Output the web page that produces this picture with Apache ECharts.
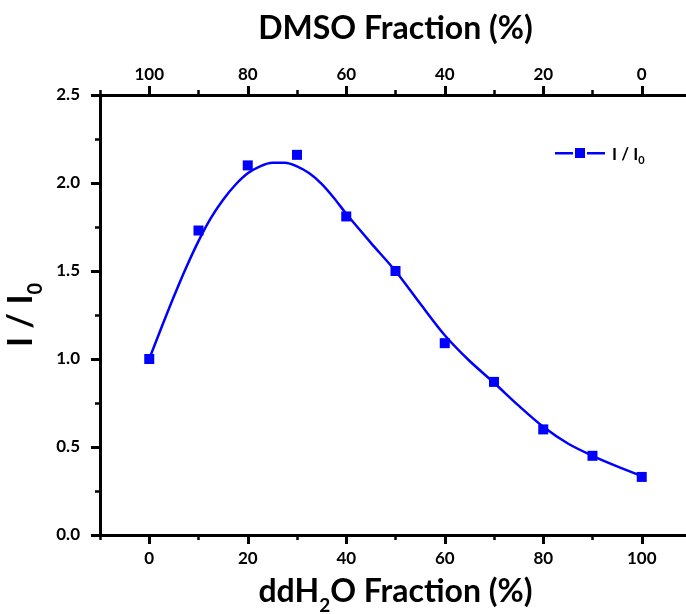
<!DOCTYPE html>
<html>
<head>
<meta charset="utf-8">
<script src="https://cdn.jsdelivr.net/npm/echarts@6/dist/echarts.min.js"></script>
<style>html,body{margin:0;padding:0;background:#fff}#c{width:686px;height:614px}</style>
</head>
<body>
<div id="c"></div>
<script>
// Measured points
const waterFraction = [0, 10, 20, 30, 40, 50, 60, 70, 80, 90, 100];
const intensityRatio = [1.00, 1.73, 2.10, 2.16, 1.81, 1.50, 1.09, 0.87, 0.60, 0.45, 0.33];
// Fitted curve
const fitX = [0, 2.5, 5, 7.5, 10, 12.5, 15, 17.5, 20, 22.5, 25, 27.5, 30, 32.5, 35, 37.5, 40, 45, 50, 55, 60, 65, 70, 75, 80, 85, 90, 95, 100];
const fitY = [1.00, 1.18, 1.355, 1.52, 1.67, 1.80, 1.905, 1.99, 2.055, 2.095, 2.115, 2.115, 2.095, 2.055, 1.995, 1.915, 1.825, 1.66, 1.50, 1.315, 1.135, 0.99, 0.865, 0.735, 0.615, 0.52, 0.45, 0.39, 0.335];
const yTicks = [0, 0.5, 1.0, 1.5, 2.0, 2.5];

const FONT = 'Lato';
const chart = echarts.init(document.getElementById('c'), null, {renderer: 'canvas'});
const black = '#000';
const tickLbl = {fontFamily: FONT, fontWeight: 'bold', fontSize: 17, color: black};

const option = {
  animation: false,
  backgroundColor: '#fff',
  grid: [
    {left: 100, top: 95, width: 591, height: 440, containLabel: false, outerBoundsMode: 'none'},
    {left: 149.25, top: 95, width: 492.5, height: 440, containLabel: false, outerBoundsMode: 'none'}
  ],
  xAxis: [
    { // frame bottom, minor ticks
      gridIndex: 0, type: 'value', min: -10, max: 110, interval: 10, position: 'bottom',
      axisLine: {show: true, onZero: false, lineStyle: {color: black, width: 3}},
      axisTick: {show: true, length: 5, lineStyle: {color: black, width: 2.5}},
      axisLabel: {show: false}, splitLine: {show: false},
      name: '{m|ddH}{s|2}{m|O Fraction (%)}', nameLocation: 'middle', nameGap: 37,
      nameTextStyle: {rich: {
        m: {fontFamily: FONT, fontWeight: 'bold', fontSize: 32, color: black, lineHeight: 36, verticalAlign: 'bottom'},
        s: {fontFamily: FONT, fontWeight: 'bold', fontSize: 19, color: black, lineHeight: 19, verticalAlign: 'bottom', padding: [0, 0, -7, 0]}
      }}
    },
    { // frame top, minor ticks
      gridIndex: 0, type: 'value', min: -10, max: 110, interval: 10, position: 'top',
      axisLine: {show: true, onZero: false, lineStyle: {color: black, width: 3}},
      axisTick: {show: true, length: 5, lineStyle: {color: black, width: 2.5}},
      axisLabel: {show: false}, splitLine: {show: false},
      name: 'DMSO Fraction (%)', nameLocation: 'middle', nameGap: 50,
      nameTextStyle: {fontFamily: FONT, fontWeight: 'bold', fontSize: 32, color: black}
    },
    { // bottom major ticks + labels
      gridIndex: 1, type: 'value', min: 0, max: 100, interval: 20, position: 'bottom',
      axisLine: {show: false, onZero: false},
      axisTick: {show: true, length: 9, lineStyle: {color: black, width: 3}},
      axisLabel: Object.assign({margin: 15}, tickLbl), splitLine: {show: false}
    },
    { // top major ticks + labels (DMSO)
      gridIndex: 1, type: 'value', min: 0, max: 100, interval: 20, position: 'top', inverse: true,
      axisLine: {show: false, onZero: false},
      axisTick: {show: true, length: 9, lineStyle: {color: black, width: 3}},
      axisLabel: Object.assign({margin: 12}, tickLbl), splitLine: {show: false}
    }
  ],
  yAxis: [
    {
      gridIndex: 0, type: 'value', min: yTicks[0], max: yTicks[yTicks.length - 1], interval: 0.5,
      axisLine: {show: true, onZero: false, lineStyle: {color: black, width: 3}},
      axisTick: {show: true, length: 9, lineStyle: {color: black, width: 3}},
      minorTick: {show: true, splitNumber: 2, length: 5, lineStyle: {color: black, width: 2.5}},
      axisLabel: Object.assign({margin: 20, formatter: v => v.toFixed(1)}, tickLbl),
      splitLine: {show: false}, minorSplitLine: {show: false},
      name: '{m|I / I}{s|0}', nameLocation: 'middle', nameGap: 58, nameRotate: 90,
      nameTextStyle: {rich: {
        m: {fontFamily: FONT, fontWeight: 'bold', fontSize: 34, color: black, lineHeight: 40, verticalAlign: 'bottom'},
        s: {fontFamily: FONT, fontWeight: 'bold', fontSize: 20, color: black, lineHeight: 20, verticalAlign: 'bottom', padding: [0, 0, -7, 0]}
      }}
    },
    {gridIndex: 1, type: 'value', min: 0, max: 2.5, show: false}
  ],
  legend: {
    left: 550, top: 141, itemWidth: 50, itemHeight: 10, itemGap: 0,
    data: [{
      name: 'I / I0',
      icon: 'path://M0,4 L18,4 L18,6.5 L0,6.5 Z M20,0 L30,0 L30,10 L20,10 Z M32,4 L50,4 L50,6.5 L32,6.5 Z',
      itemStyle: {color: '#0000ff'}
    }],
    formatter: () => '{m|I / I}{s|0}',
    textStyle: {padding: [0, 0, 0, 2], rich: {
      m: {fontFamily: FONT, fontWeight: 'bold', fontSize: 17, color: black, lineHeight: 20, verticalAlign: 'bottom'},
      s: {fontFamily: FONT, fontWeight: 'bold', fontSize: 11, color: black, lineHeight: 11, verticalAlign: 'bottom', padding: [0, 0, -3, 0]}
    }}
  },
  series: [
    {
      name: 'I / I0', type: 'line', xAxisIndex: 2, yAxisIndex: 1,
      data: fitX.map((x, i) => [x, fitY[i]]),
      smooth: 0.3, showSymbol: false, symbol: 'none',
      lineStyle: {color: '#0000ff', width: 2.5}, itemStyle: {color: '#0000ff'},
      z: 2
    },
    {
      name: 'points', type: 'scatter', xAxisIndex: 2, yAxisIndex: 1,
      data: waterFraction.map((x, i) => [x, intensityRatio[i]]),
      symbol: 'rect', symbolSize: 10,
      itemStyle: {color: '#0000ff', opacity: 1}, z: 3
    }
  ]
};
chart.setOption(option);
</script>
</body>
</html>
